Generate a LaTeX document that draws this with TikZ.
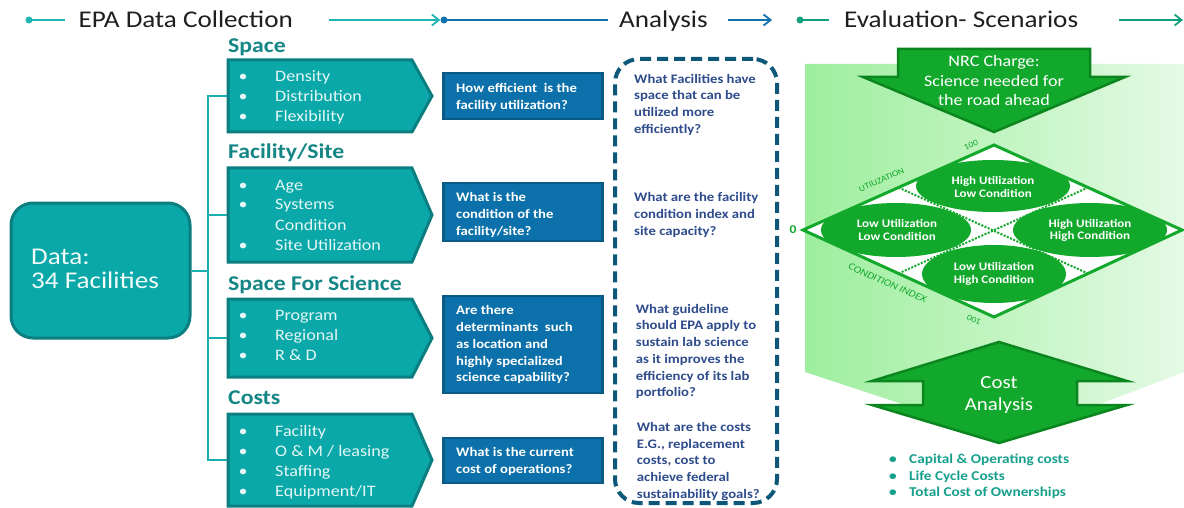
\documentclass[tikz,border=0pt]{standalone}
\usepackage{fontspec}
\setmainfont{Carlito}[FakeStretch=1.13]
\usetikzlibrary{arrows.meta,calc}
\definecolor{teal1}{HTML}{0AA8A8}
\definecolor{teal2}{HTML}{0A7E80}
\definecolor{tealhd}{HTML}{148686}
\definecolor{treeln}{HTML}{1AADAD}
\definecolor{lighttxt}{HTML}{E4F6F6}
\definecolor{blue1}{HTML}{0C71AA}
\definecolor{blue2}{HTML}{0A5A85}
\definecolor{dashc}{HTML}{0D5878}
\definecolor{qtxt}{HTML}{2E4C8C}
\definecolor{grn1}{HTML}{12A82C}
\definecolor{grn2}{HTML}{0B861F}
\definecolor{bgL}{HTML}{9EEE9E}
\definecolor{bgR}{HTML}{E4FAE4}
\definecolor{hteal}{HTML}{1FB5B0}
\definecolor{hblue}{HTML}{1070B0}
\definecolor{hgreen}{HTML}{13A07C}
\definecolor{btxt}{HTML}{16A08C}
\newcommand\fsz[2]{\fontsize{#1}{#2}\selectfont}
\tikzset{
  hdr/.style={font=\fsz{24}{28}, text=black!88, inner sep=0, anchor=base west},
  hdot/.style={circle, fill=#1, inner sep=0, minimum size=7pt},
  hline/.style={draw=#1, line width=1.8pt},
  harrow/.style={draw=#1, line width=1.8pt, -{Straight Barb[length=7pt,width=11pt,line width=1.8pt]}},
  cathd/.style={font=\bfseries\fsz{21}{24}, text=tealhd, inner sep=0, anchor=base west},
  catbox/.style={fill=teal1, draw=teal2, line width=3pt, line join=miter},
  tree/.style={draw=treeln, line width=2pt},
  item/.style={font=\fsz{16}{20}, text=lighttxt, inner sep=0, anchor=base west},
  bul/.style={font=\fsz{16}{20}, text=lighttxt, inner sep=0, anchor=base},
  qbox/.style={rectangle, fill=blue1, draw=blue2, line width=2.5pt, inner sep=0},
  qtext/.style={font=\bfseries\fsz{13}{16.7}, text=white, inner sep=0, anchor=west, align=left},
  atext/.style={font=\bfseries\fsz{13}{16.7}, text=qtxt, inner sep=0, anchor=west, align=left},
  gbox/.style={fill=grn1, draw=grn2, line width=2.5pt, line join=miter},
  gtext/.style={font=\fsz{16}{20}, text=white, inner sep=0, anchor=base},
  etext/.style={font=\bfseries\fsz{11.5}{12.9}, text=white, inner sep=0, align=center},
  axlab/.style={font=\fsz{8.5}{9}, text=grn1, inner sep=0},
  btext/.style={font=\bfseries\fsz{13.5}{16}, text=btxt, inner sep=0, anchor=base west},
}
\begin{document}
\begin{tikzpicture}[x=1pt,y=-1pt]
\useasboundingbox (0,0) rectangle (1184,508);
\fill[white] (0,0) rectangle (1184,508);

% ---------- header ----------
\node[hdot=hteal] (d1) at (29,20) {};
\coordinate (d1e) at (65,20);
\draw[hline=hteal] (d1.center) -- (d1e);
\node[hdr] (t1) at (78.5,27.5) {EPA Data Collection};
\coordinate (a1s) at (329,20);
\node[hdot=hblue] (d2) at (444,20) {};
\draw[harrow=hteal] (a1s) -- (d2.west);
\coordinate (d2e) at (608,20);
\draw[hline=hblue] (d2.center) -- (d2e);
\node[hdr] (t2) at (619,27.5) {Analysis};
\coordinate (a2s) at (728,20);
\coordinate (a2e) at (772,20);
\draw[harrow=hblue] (a2s) -- (a2e);
\node[hdot=hgreen] (d3) at (800,20) {};
\coordinate (d3e) at (829,20);
\draw[hline=hgreen] (d3.center) -- (d3e);
\node[hdr] (t3) at (844,27.5) {Evaluation- Scenarios};
\coordinate (a3s) at (1119,20);
\coordinate (a3e) at (1183,20);
\draw[harrow=hgreen] (a3s) -- (a3e);

% ---------- data box ----------
\node[rectangle, rounded corners=22pt, fill=teal1, draw=teal2, line width=3pt,
      minimum width=179pt, minimum height=135pt, inner sep=0] (data) at (100.5,270.5) {};
\node[font=\fsz{24}{28}, text=white!95!teal1, inner sep=0, anchor=base west] (dt1) at (31,264) {Data:};
\node[font=\fsz{24}{28}, text=white!95!teal1, inner sep=0, anchor=base west] (dt2) at (31,288) {34 Facilities};

% ---------- category boxes ----------
\path[catbox] (228,60) -- (412,60) -- (432,96) -- (412,132) -- (228,132) -- cycle;
\path[catbox] (228,168) -- (412,168) -- (432,215) -- (412,262) -- (228,262) -- cycle;
\path[catbox] (228,299) -- (412,299) -- (432,338) -- (412,377) -- (228,377) -- cycle;
\path[catbox] (228,414) -- (412,414) -- (432,460) -- (412,506) -- (228,506) -- cycle;
\coordinate (cL1) at (227,96);
\coordinate (cL2) at (227,215);
\coordinate (cL3) at (227,338);
\coordinate (cL4) at (227,460);
\coordinate (trunk) at (208,270.5);
\draw[tree] (data.east) -- (trunk);
\draw[tree] (trunk) |- (cL1);
\draw[tree] (trunk) |- (cL2);
\draw[tree] (trunk) |- (cL3);
\draw[tree] (trunk) |- (cL4);

\node[cathd] (h1) at (228,53) {Space};
\node[cathd] (h2) at (228,159) {Facility/Site};
\node[cathd] (h3) at (228,290) {Space For Science};
\node[cathd] (h4) at (228,404) {Costs};

\foreach \t/\y [count=\i] in {Density/82, Distribution/102, Flexibility/122,
    Age/190, Systems/210, Condition/230, Site Utilization/250,
    Program/320, Regional/340, {R \& D}/360,
    Facility/436, {O \& M / leasing}/456, Staffing/476, {Equipment/IT}/496} {
  \node[item] (it\i) at (275,\y) {\t};
}
\foreach \y [count=\i] in {82,102,122,190,210,250,320,340,360,436,456,476,496} {
  \node[bul] (bu\i) at (243,\y) {•};
}

% ---------- question boxes ----------
\node[qbox, minimum width=159pt, minimum height=46pt] (q1) at (523,96) {};
\node[qbox, minimum width=159pt, minimum height=58pt] (q2) at (523,212) {};
\node[qbox, minimum width=159pt, minimum height=97pt] (q3) at (523,344.5) {};
\node[qbox, minimum width=159pt, minimum height=45pt] (q4) at (523,460.5) {};
\node[qtext] (q1t) at (456,97.3) {How efficient\ \ is the\\facility utilization?};
\node[qtext] (q2t) at (456,214.9) {What is the\\condition of the\\facility/site?};
\node[qtext] (q3t) at (456,344.8) {Are there\\determinants\ \ such\\as location and\\highly specialized\\science capability?};
\node[qtext] (q4t) at (456,461.5) {What is the current\\cost of operations?};

% ---------- dashed analysis box ----------
\node[draw=dashc, line width=4pt, dash pattern=on 11pt off 6pt, rounded corners=24pt,
      minimum width=162pt, minimum height=444pt, inner sep=0] (dbox) at (696,281) {};
\node[atext] (a1) at (634,104.8) {What Facilities have\\space that can be\\utilized more\\efficiently?};
\node[atext] (a2) at (634,214.8) {What are the facility\\condition index and\\site capacity?};
\node[atext] (a3) at (635.7,351.5) {What guideline\\should EPA apply to\\sustain lab science\\as it improves the\\efficiency of its lab\\portfolio?};
\node[atext] (a4) at (636.7,461.5) {What are the costs\\E.G., replacement\\costs, cost to\\achieve federal\\sustainability goals?};

% ---------- evaluation panel ----------
\shade[left color=bgL, right color=bgR] (805,64) -- (1184,64) -- (1184,372) -- (1008,439) -- (805,372) -- cycle;

\path[gbox] (898,49) -- (1090,49) -- (1090,77) -- (1125,77) -- (994,132) -- (863,77) -- (898,77) -- cycle;
\node[gtext] (n1) at (994,66.7) {NRC Charge:};
\node[gtext] (n2) at (994,86.7) {Science needed for};
\node[gtext] (n3) at (994,106) {the road ahead};

% diamond
\fill[white] (994,145) -- (1182,230) -- (994,317) -- (803,230) -- cycle;
\begin{scope}
  \clip (994,145) -- (1182,230) -- (994,317) -- (803,230) -- cycle;
  \draw[grn1, line width=2pt, dash pattern=on 2pt off 1.5pt] (898.5,187.5) -- (1088,273.5);
  \draw[grn1, line width=2pt, dash pattern=on 2pt off 1.5pt] (898.5,273.5) -- (1088,187.5);
  \fill[grn1] (993,186) ellipse [x radius=77pt, y radius=26pt];
  \fill[grn1] (896,230) ellipse [x radius=75pt, y radius=27pt];
  \fill[grn1] (1090,230) ellipse [x radius=77pt, y radius=27pt];
  \fill[grn1] (994,274) ellipse [x radius=72pt, y radius=29pt];
\end{scope}
\draw[grn1, line width=3pt, line join=miter] (994,145) -- (1182,230) -- (994,317) -- (803,230) -- cycle;
\node[etext] (e1) at (993,187.4) {High Utilization\\Low Condition};
\node[etext] (e2) at (897,230.4) {Low Utilization\\Low Condition};
\node[etext] (e3) at (1090,230.4) {High Utilization\\High Condition};
\node[etext] (e4) at (994,274) {Low Utilization\\High Condition};
\node[font=\bfseries\fsz{12}{14}, text=grn1, inner sep=0] (zero) at (793,230) {0};
\node[axlab, rotate=24] (u100) at (971,145) {100};
\node[axlab, rotate=24] (util) at (881.5,180) {UTILIZATION};
\node[axlab, rotate=-24, font=\itshape\fsz{10}{11}] (cond) at (887.5,283) {CONDITION INDEX};
\node[axlab, rotate=156] (c100) at (974,320) {100};

% cost analysis
\path[gbox] (999,342) -- (1127,381) -- (1077,381) -- (1077,405) -- (1127,405) -- (999,443)
   -- (872,405) -- (923,405) -- (923,381) -- (872,381) -- cycle;
\node[font=\fsz{18.5}{22}, text=white, inner sep=0, anchor=base] (ca1) at (999,388.3) {Cost};
\node[font=\fsz{18.5}{22}, text=white, inner sep=0, anchor=base] (ca2) at (999,410) {Analysis};

\foreach \t/\y [count=\i] in {{Capital \& Operating costs}/463.3, {Life Cycle Costs}/480, {Total Cost of Ownerships}/496.7} {
  \node[btext] (bt\i) at (909,\y) {\t};
  \node[font=\bfseries\fsz{13.5}{16}, text=btxt, inner sep=0, anchor=base] (bb\i) at (893,\y) {•};
}
\end{tikzpicture}
\end{document}
